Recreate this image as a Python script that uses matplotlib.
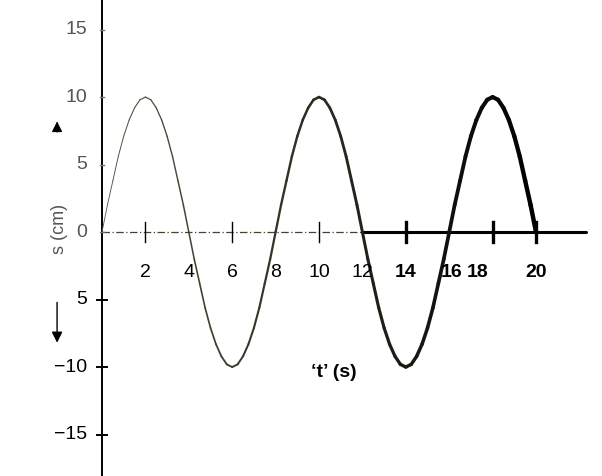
import numpy as np
import matplotlib.pyplot as plt
from matplotlib.collections import LineCollection

plt.rcParams['font.family'] = ['Liberation Sans', 'DejaVu Sans']

# ---------- data ----------
# displacement s (cm) read every 0.25 s from t = 0 to t = 20 s
s_cm = [0, 2.0, 3.8, 5.6, 7.1, 8.3, 9.2, 9.8, 10, 9.8, 9.2, 8.3, 7.1, 5.6, 3.8, 2.0,
        0, -2.0, -3.8, -5.6, -7.1, -8.3, -9.2, -9.8, -10, -9.8, -9.2, -8.3, -7.1, -5.6, -3.8, -2.0,
        0, 2.0, 3.8, 5.6, 7.1, 8.3, 9.2, 9.8, 10, 9.8, 9.2, 8.3, 7.1, 5.6, 3.8, 2.0,
        0, -2.0, -3.8, -5.6, -7.1, -8.3, -9.2, -9.8, -10, -9.8, -9.2, -8.3, -7.1, -5.6, -3.8, -2.0,
        0, 2.0, 3.8, 5.6, 7.1, 8.3, 9.2, 9.8, 10, 9.8, 9.2, 8.3, 7.1, 5.6, 3.8, 2.0,
        0]
t_s = np.arange(len(s_cm)) * 0.25

x_labels = ["2", "4", "6", "8", "10", "12", "14", "16", "18", "20"]
x_label_pos = [2, 4, 6, 8, 10, 12, 14, 16.1, 17.3, 20]
x_tick_marks = [2, 6, 10, 14, 18, 20]
y_labels = ["15", "10", "5", "0", "5", "\u221210", "\u221215"]
y_label_pos = [15, 10, 5, 0, -5, -10, -15]

# ---------- figure ----------
fig = plt.figure(figsize=(6.02, 4.76), dpi=100)
ax = fig.add_axes([0, 0, 1, 1])
ax.set_xlim(-4.70, 23.04)
ax.set_ylim(-18.07, 17.19)
ax.axis('off')

# curve: ink gets heavier from left to right
pts = np.column_stack([t_s, s_cm])
segs = np.stack([pts[:-1], pts[1:]], axis=1)
frac = np.linspace(0, 1, len(segs))
widths = 0.6 + 2.6 * frac
cols = [(0.35 * (1 - f), 0.33 * (1 - f), 0.25 * (1 - f)) for f in frac]
ax.add_collection(LineCollection(segs, linewidths=widths, colors=cols,
                                 capstyle='round', joinstyle='round', zorder=3))

# t axis: dash-dot on the left, solid and heavier on the right
ax.plot([0, 12], [0, 0], color='#444433', lw=0.9, ls=(0, (6, 2, 1, 2)))
ax.plot([12, 22.3], [0, 0], color='black', lw=2.2, solid_capstyle='round')
for xt in x_tick_marks:
    lw = 1.0 if xt < 12 else 2.4
    ax.plot([xt, xt], [-0.75, 0.75], color='black', lw=lw)
for lab, xp in zip(x_labels, x_label_pos):
    bold = int(lab) >= 14
    ax.text(xp, -3.0, lab, ha='center', va='center', fontsize=14,
            fontweight='bold' if bold else 'normal', color='black')

# s axis
ax.plot([0, 0], [-18.07, 17.19], color='black', lw=1.4)
for lab, yp in zip(y_labels, y_label_pos):
    if yp < 0:
        ax.plot([-0.25, 0.25], [yp, yp], color='black', lw=1.4)
        col = 'black'
    else:
        ax.plot([-0.08, 0.08], [yp, yp], color='#777777', lw=1.0)
        col = '#555555'
    ax.text(-0.7, yp, lab, ha='right', va='center', fontsize=14, color=col)

ax.text(-1.95, 0.2, "s (cm)", rotation=90, ha='center', va='center',
        fontsize=13, color='#555555')
ax.annotate('', xy=(-2.07, 8.4), xytext=(-2.07, 7.2),
            arrowprops=dict(arrowstyle='-|>', color='black', lw=0.8,
                            mutation_scale=16))
ax.annotate('', xy=(-2.07, -8.4), xytext=(-2.07, -5.0),
            arrowprops=dict(arrowstyle='-|>', color='black', lw=1.0,
                            mutation_scale=16))

ax.text(10.7, -10.4, "\u2018t\u2019 (s)", ha='center', va='center',
        fontsize=14, fontweight='bold')

fig.savefig('out.png', dpi=100, facecolor='white')
